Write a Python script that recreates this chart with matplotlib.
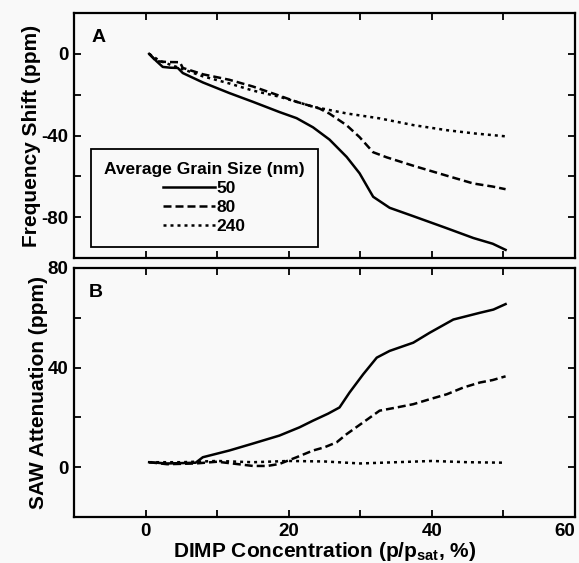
import matplotlib
matplotlib.use('Agg')
import matplotlib.pyplot as plt

plt.rcParams['font.family'] = ['Liberation Sans', 'DejaVu Sans']
plt.rcParams['font.weight'] = 'bold'
plt.rcParams['mathtext.fontset'] = 'custom'
plt.rcParams['mathtext.bf'] = 'Liberation Sans:bold'
plt.rcParams['mathtext.rm'] = 'Liberation Sans:bold'
plt.rcParams['mathtext.default'] = 'bf'

# Panel A: frequency shift (ppm) vs DIMP concentration (%)
a50_x = [0.5, 1.5, 2.4, 3.5, 4.5, 5.2, 8, 11.7, 15, 18.7, 21.1, 23.4, 25.7, 28.1,
         29.9, 31.3, 31.8, 34.1, 37.4, 42.0, 45.8, 48.5, 50.3]
a50_y = [0, -3.5, -6.4, -6.8, -6.9, -9.4, -14, -19.2, -23.5, -28.5, -31.5, -36, -42,
         -50.5, -58.5, -67, -70, -75.4, -79.5, -85.3, -90.2, -93, -96]
a80_x = [0.5, 1.5, 3.0, 4.8, 5.2, 8, 11.7, 15, 18.7, 21.1, 24.3, 25.7, 28.1, 29.9,
         31.8, 33.7, 37.4, 42.1, 45.8, 48.5, 50.3]
a80_y = [0, -3.6, -4.0, -4.1, -6.9, -10, -12.7, -16, -20.5, -23.5, -26.8, -29.3, -35,
         -40.8, -48.2, -50.7, -54.8, -59.7, -63.5, -65, -66.3]
a240_x = [0.5, 2, 5.2, 8, 11.7, 15, 18.7, 23.4, 28.1, 32.7, 37.4, 42.1, 46, 50.3]
a240_y = [0, -3.5, -7.5, -11, -14.5, -18, -21, -25.9, -29.2, -31.6, -34.9, -37.4, -39, -40.4]

# Panel B: SAW attenuation (ppm)
b50_x = [0.5, 3, 7, 8, 11.7, 15, 18.7, 21.5, 23.4, 25.5, 27.1, 28.5, 30.4, 32.3, 34.1,
         37.4, 39.7, 43.0, 46.7, 48.6, 50.3]
b50_y = [2, 1.5, 1.8, 4, 6.7, 9.5, 12.7, 16, 18.7, 21.5, 24, 30, 37.3, 44, 46.7, 50,
         54, 59.3, 62, 63.3, 65.5]
b80_x = [0.5, 3, 7, 10, 13, 15, 17, 18.7, 21.1, 23.4, 25, 26.7, 28.1, 30.4, 32.7, 35.1,
         37.4, 39.7, 42.1, 44.4, 46.7, 48.5, 50.3]
b80_y = [2, 1.2, 1.5, 2.2, 1.2, 0.5, 0.5, 1.3, 4, 6.7, 8, 10, 13.3, 18, 22.7, 24, 25.3,
         27.3, 29.3, 32, 34, 35, 36.5]
b240_x = [0.5, 5, 10, 15, 20, 25, 30, 35, 40, 45, 50.3]
b240_y = [2, 2, 2.5, 2, 2.5, 2.3, 1.5, 2, 2.5, 2, 1.8]

sizes = ['50', '80', '240']
styles = ['-', (0, (3.2, 1.6)), (0, (1.2, 1.6))]

bg = '#f9f9f9'
fig = plt.figure(figsize=(5.79, 5.63), dpi=100, facecolor=bg)
axA = fig.add_axes([0.1278, 0.5417, 0.8653, 0.4352])
axB = fig.add_axes([0.1278, 0.0817, 0.8653, 0.4423])

for ax, xs, ys in [(axA, [a50_x, a80_x, a240_x], [a50_y, a80_y, a240_y]),
                   (axB, [b50_x, b80_x, b240_x], [b50_y, b80_y, b240_y])]:
    ax.set_facecolor(bg)
    for x, y, ls, lab in zip(xs, ys, styles, sizes):
        ax.plot(x, y, color='black', lw=1.8, linestyle=ls, label=lab)
    ax.set_xlim(-10, 60)
    ax.set_xticks(range(0, 61, 10))
    for s in ax.spines.values():
        s.set_linewidth(1.6)
    ax.tick_params(direction='in', top=True, right=True, length=5, width=1.3,
                   labelsize=13.5, pad=4)

axA.set_ylim(-100, 20)
axA.set_yticks(range(-100, 21, 20))
axA.set_yticklabels(['', '-80', '', '-40', '', '0', ''])
axA.set_xticklabels([])
axA.set_ylabel('Frequency Shift (ppm)', fontsize=15, fontweight='bold', labelpad=0)
axA.text(0.035, 0.935, 'A', transform=axA.transAxes, fontsize=14, fontweight='bold',
         va='top')

axB.set_ylim(-20, 80)
axB.set_yticks(range(-20, 81, 20))
axB.set_yticklabels(['', '0', '', '40', '', '80'])
axB.set_xticklabels(['0', '', '20', '', '40', '', '60'])
axB.get_xticklabels()[-1].set_horizontalalignment('right')
axB.set_ylabel('SAW Attenuation (ppm)', fontsize=15, fontweight='bold', labelpad=0)
axB.set_xlabel(r'DIMP Concentration (p/p$_{sat}$, %)', fontsize=15,
               fontweight='bold', labelpad=0)
axB.text(0.03, 0.935, 'B', transform=axB.transAxes, fontsize=14, fontweight='bold',
         va='top')

leg = axA.legend(title='Average Grain Size (nm)', loc='upper left',
                 bbox_to_anchor=(0.034, 0.445), borderaxespad=0, fancybox=False,
                 frameon=True, edgecolor='black', framealpha=1, facecolor=bg,
                 fontsize=12.5, title_fontsize=12.5, handlelength=3.0,
                 handletextpad=0.05, labelspacing=0.22, borderpad=0.75)
leg.get_frame().set_linewidth(1.3)
leg.get_title().set_fontweight('bold')
for t in leg.get_texts():
    t.set_fontweight('bold')

fig.savefig('out.png', dpi=100, facecolor=fig.get_facecolor())
